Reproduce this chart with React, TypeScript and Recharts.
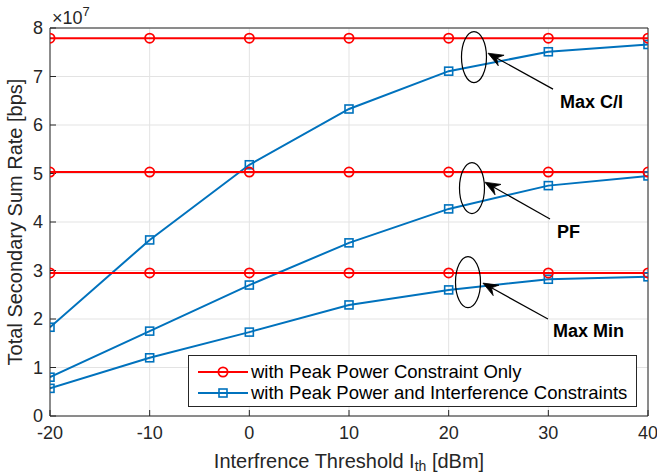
import React from 'react';
import {
  LineChart,
  Line,
  XAxis,
  YAxis,
  CartesianGrid,
  Legend,
  ReferenceDot,
  ReferenceLine,
  Label,
} from 'recharts';

// ---------------- data ----------------
const thresholds = [-20, -10, 0, 10, 20, 30, 40];
// with Peak Power Constraint Only (x 1e7 bps)
const peakMaxCI = [7.79, 7.79, 7.79, 7.79, 7.79, 7.79, 7.79];
const peakPF = [5.03, 5.03, 5.03, 5.03, 5.03, 5.03, 5.03];
const peakMaxMin = [2.95, 2.95, 2.95, 2.95, 2.95, 2.95, 2.95];
// with Peak Power and Interference Constraints (x 1e7 bps)
const interfMaxCI = [1.83, 3.63, 5.18, 6.33, 7.11, 7.51, 7.66];
const interfPF = [0.8, 1.75, 2.7, 3.57, 4.27, 4.75, 4.95];
const interfMaxMin = [0.57, 1.2, 1.73, 2.29, 2.6, 2.82, 2.87];

const xTicks = [-20, -10, 0, 10, 20, 30, 40];
const yTicks = [0, 1, 2, 3, 4, 5, 6, 7, 8];

const seriesNames = [
  'with Peak Power Constraint Only',
  'with Peak Power and Interference Constraints',
];
const schemeLabels = ['Max C/I', 'PF', 'Max Min'];
// annotation anchors in data coordinates
const ellipseCenters = [
  { x: 22.54, y: 7.4 },
  { x: 22.34, y: 4.7 },
  { x: 21.94, y: 2.76 },
];
const arrowStarts = [
  { x: 30.47, y: 6.74 },
  { x: 30.17, y: 4.06 },
  { x: 29.96, y: 2.0 },
];
const arrowTips = [
  { x: 23.95, y: 7.48 },
  { x: 23.64, y: 4.82 },
  { x: 23.44, y: 2.74 },
];
const labelAnchors = [
  { x: 31.17, y: 6.35 },
  { x: 30.87, y: 3.67 },
  { x: 30.47, y: 1.63 },
];

const data = thresholds.map((t, i) => ({
  x: t,
  pMaxCI: peakMaxCI[i],
  pPF: peakPF[i],
  pMaxMin: peakMaxMin[i],
  iMaxCI: interfMaxCI[i],
  iPF: interfPF[i],
  iMaxMin: interfMaxMin[i],
}));

// ---------------- styles ----------------
const RED = '#ff0000';
const BLUE = '#0072bd';
const AXIS = '#262626';
const GRID = '#e3e3e3';
const FONT = '"Liberation Sans", Arial, Helvetica, sans-serif';

const CircleDot = (props: any) => {
  const { cx, cy, index } = props;
  if (cx == null || cy == null) return <g key={`c${index}`} />;
  return (
    <circle key={`c${index}`} cx={cx} cy={cy} r={4.6} fill="none" stroke={RED} strokeWidth={1.8} />
  );
};

const SquareDot = (props: any) => {
  const { cx, cy, index } = props;
  if (cx == null || cy == null) return <g key={`s${index}`} />;
  return (
    <rect
      key={`s${index}`}
      x={cx - 4}
      y={cy - 4}
      width={8}
      height={8}
      fill="none"
      stroke={BLUE}
      strokeWidth={1.6}
    />
  );
};

const EllipseShape = (props: any) => {
  const { cx, cy } = props;
  return <ellipse cx={cx} cy={cy} rx={12.5} ry={25.5} fill="none" stroke="#000" strokeWidth={1.2} />;
};

const makeTextShape = (txt: string) => (props: any) => {
  const { cx, cy } = props;
  return (
    <text x={cx} y={cy} fontFamily={FONT} fontSize={18} fontWeight="bold" fill="#000" textAnchor="start">
      {txt}
    </text>
  );
};

const ArrowShape = (props: any) => {
  const { x1, y1, x2, y2 } = props;
  if ([x1, y1, x2, y2].some((v) => v == null || isNaN(v))) return <g />;
  const ang = Math.atan2(y2 - y1, x2 - x1);
  const c = Math.cos(ang);
  const s = Math.sin(ang);
  const len = 15;
  const w = 6;
  const bx = x2 - len * c;
  const by = y2 - len * s;
  const nx = x2 - len * 0.65 * c;
  const ny = y2 - len * 0.65 * s;
  const pts = [
    [x2, y2],
    [bx + w * s, by - w * c],
    [nx, ny],
    [bx - w * s, by + w * c],
  ]
    .map((p) => p.join(','))
    .join(' ');
  return (
    <g>
      <line x1={x1} y1={y1} x2={nx} y2={ny} stroke="#000" strokeWidth={1.2} />
      <polygon points={pts} fill="#000" stroke="#000" strokeWidth={0.8} />
    </g>
  );
};

const ExpShape = (props: any) => {
  const { cx, cy } = props;
  return (
    <text x={cx + 2} y={cy - 4} fontFamily={FONT} fontSize={18} fill={AXIS}>
      ×10
      <tspan fontSize={13} dy={-8}>
        7
      </tspan>
    </text>
  );
};

const YTitle = (props: any) => {
  const vb = props.viewBox || { x: 10, y: 28, width: 40, height: 388 };
  const x = vb.x + 12;
  const y = vb.y + vb.height / 2;
  return (
    <text
      x={x}
      y={y}
      transform={`rotate(-90, ${x}, ${y})`}
      textAnchor="middle"
      fontFamily={FONT}
      fontSize={20}
      fill={AXIS}
    >
      Total Secondary Sum Rate [bps]
    </text>
  );
};

const XTitle = (props: any) => {
  const vb = props.viewBox || { x: 50, y: 416, width: 598, height: 50 };
  const x = vb.x + vb.width / 2;
  const y = vb.y + 51.5;
  return (
    <text x={x} y={y} textAnchor="middle" fontFamily={FONT} fontSize={20} fill={AXIS}>
      Interfrence Threshold I
      <tspan fontSize={14} dy={3.5}>
        th
      </tspan>
      <tspan dy={-3.5}> [dBm]</tspan>
    </text>
  );
};

const LegendBox = () => (
  <div
    style={{
      width: 447,
      height: 50,
      border: `1px solid ${AXIS}`,
      background: '#fff',
      fontFamily: FONT,
      fontSize: 18.5,
      color: '#000',
      position: 'relative',
    }}
  >
    {seriesNames.map((name, i) => (
      <div
        key={name}
        style={{
          position: 'absolute',
          left: 9,
          top: i === 0 ? 5 : 26,
          height: 22,
          display: 'flex',
          alignItems: 'center',
          whiteSpace: 'nowrap',
        }}
      >
        <svg width={50} height={22} style={{ display: 'block' }}>
          <line x1={0} y1={11} x2={50} y2={11} stroke={i === 0 ? RED : BLUE} strokeWidth={2} />
          {i === 0 ? (
            <circle cx={25} cy={11} r={4.6} fill="none" stroke={RED} strokeWidth={1.8} />
          ) : (
            <rect x={21} y={7} width={8} height={8} fill="none" stroke={BLUE} strokeWidth={1.6} />
          )}
        </svg>
        <span style={{ marginLeft: 3, lineHeight: '22px' }}>{name}</span>
      </div>
    ))}
  </div>
);

export default function App() {
  return (
    <div style={{ position: 'absolute', left: 0, top: 0, width: 657, height: 473, background: '#fff' }}>
      <LineChart
        width={657}
        height={473}
        data={data}
        margin={{ top: 28, right: 9, bottom: 7, left: 10 }}
        style={{ fontFamily: FONT }}
      >
        <CartesianGrid xAxisId="b" yAxisId="l" stroke={GRID} strokeWidth={1} />
        <XAxis
          xAxisId="b"
          dataKey="x"
          type="number"
          domain={[-20, 40]}
          ticks={xTicks}
          height={50}
          stroke={AXIS}
          tickSize={-6}
          tickMargin={16}
          tick={{ fontSize: 18, fill: AXIS, fontFamily: FONT }}
          allowDataOverflow
        >
          <Label content={XTitle} />
        </XAxis>
        <XAxis
          xAxisId="t"
          dataKey="x"
          type="number"
          orientation="top"
          domain={[-20, 40]}
          ticks={xTicks}
          height={0}
          stroke={AXIS}
          tickSize={-6}
          tick={false}
          allowDataOverflow
        />
        <YAxis
          yAxisId="l"
          type="number"
          domain={[0, 8]}
          ticks={yTicks}
          width={40}
          stroke={AXIS}
          tickSize={-6}
          tickMargin={13}
          tick={{ fontSize: 18, fill: AXIS, fontFamily: FONT }}
          allowDataOverflow
        >
          <Label content={YTitle} />
        </YAxis>
        <YAxis
          yAxisId="r"
          type="number"
          orientation="right"
          domain={[0, 8]}
          ticks={yTicks}
          width={0}
          stroke={AXIS}
          tickSize={-6}
          tick={false}
          allowDataOverflow
        />

        <ReferenceLine xAxisId="b" yAxisId="l" y={8} stroke={AXIS} strokeWidth={1} ifOverflow="visible" />
        <ReferenceLine xAxisId="b" yAxisId="l" x={40} stroke={AXIS} strokeWidth={1} ifOverflow="visible" />

        <Line xAxisId="b" yAxisId="l" dataKey="iMaxCI" stroke={BLUE} strokeWidth={2} dot={SquareDot} isAnimationActive={false} legendType="none" />
        <Line xAxisId="b" yAxisId="l" dataKey="iPF" stroke={BLUE} strokeWidth={2} dot={SquareDot} isAnimationActive={false} legendType="none" />
        <Line xAxisId="b" yAxisId="l" dataKey="iMaxMin" stroke={BLUE} strokeWidth={2} dot={SquareDot} isAnimationActive={false} legendType="none" />
        <Line xAxisId="b" yAxisId="l" dataKey="pMaxCI" stroke={RED} strokeWidth={2} dot={CircleDot} isAnimationActive={false} legendType="none" />
        <Line xAxisId="b" yAxisId="l" dataKey="pPF" stroke={RED} strokeWidth={2} dot={CircleDot} isAnimationActive={false} legendType="none" />
        <Line xAxisId="b" yAxisId="l" dataKey="pMaxMin" stroke={RED} strokeWidth={2} dot={CircleDot} isAnimationActive={false} legendType="none" />

        {ellipseCenters.map((c, i) => (
          <ReferenceDot
            key={`e${i}`}
            xAxisId="b"
            yAxisId="l"
            x={c.x}
            y={c.y}
            ifOverflow="visible"
            shape={EllipseShape}
          />
        ))}
        {arrowStarts.map((s, i) => (
          <ReferenceLine
            key={`a${i}`}
            xAxisId="b"
            yAxisId="l"
            segment={[s, arrowTips[i]]}
            ifOverflow="visible"
            shape={ArrowShape}
          />
        ))}
        {labelAnchors.map((p, i) => (
          <ReferenceDot
            key={`t${i}`}
            xAxisId="b"
            yAxisId="l"
            x={p.x}
            y={p.y}
            ifOverflow="visible"
            shape={makeTextShape(schemeLabels[i])}
          />
        ))}
        <ReferenceDot xAxisId="b" yAxisId="l" x={-20} y={8} ifOverflow="visible" shape={ExpShape} />

        <Legend
          layout="vertical"
          align="center"
          verticalAlign="middle"
          content={LegendBox}
          wrapperStyle={{ position: 'absolute', left: 188, top: 355, width: 449, height: 52 }}
        />
      </LineChart>
    </div>
  );
}
